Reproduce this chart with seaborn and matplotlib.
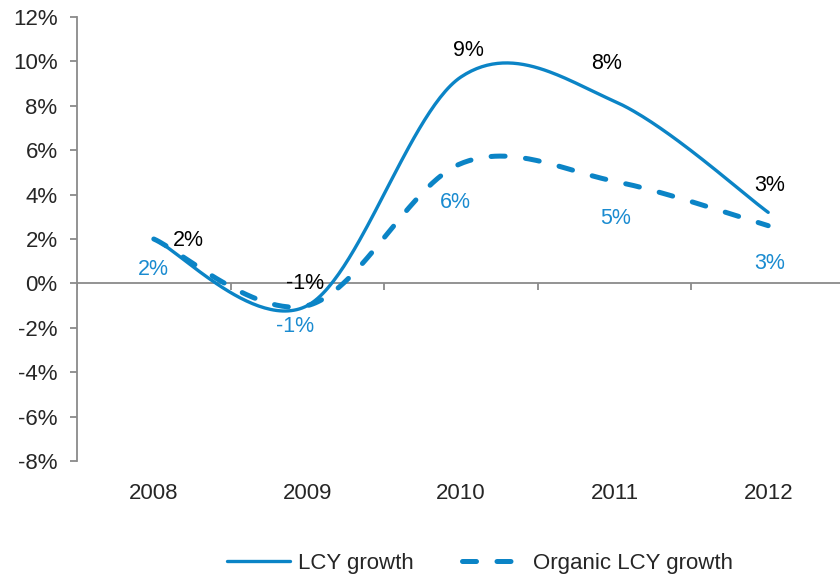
import numpy as np
import pandas as pd
import matplotlib
matplotlib.use('Agg')
import matplotlib.pyplot as plt
import seaborn as sns

years = ['2008', '2009', '2010', '2011', '2012']
lcy_growth = [2.0, -1.0, 9.3, 8.2, 3.2]
organic_growth = [2.0, -1.0, 5.4, 4.6, 2.6]
lcy_labels = ['2%', '-1%', '9%', '8%', '3%']
organic_labels = ['2%', '-1%', '6%', '5%', '3%']

# label offsets in points (dx, dy) from each point
lcy_offsets = [(25, -1), (-2, 16), (5, 19), (-6, 27), (1, 19)]
organic_offsets = [(0, -22), (-9, -15), (-4, -28), (1, -27), (1, -27)]

blue = '#0B84C6'
label_blue = '#1A8BD0'
grey = '#8A8A8A'


def smooth(y, n=60):
    # Excel-style smoothed line: cubic bezier through the points
    x = np.arange(len(y), dtype=float)
    p = np.column_stack([x, np.asarray(y, dtype=float)])
    xs, ys = [], []
    for i in range(len(p) - 1):
        p0 = p[max(i - 1, 0)]
        p1 = p[i]
        p2 = p[i + 1]
        p3 = p[min(i + 2, len(p) - 1)]
        c1 = p1 + (p2 - p0) / 6
        c2 = p2 - (p3 - p1) / 6
        t = np.linspace(0, 1, n)[:, None]
        b = ((1 - t) ** 3) * p1 + 3 * ((1 - t) ** 2) * t * c1 + 3 * (1 - t) * t ** 2 * c2 + t ** 3 * p2
        xs.extend(b[:, 0])
        ys.extend(b[:, 1])
    return pd.DataFrame({'x': xs, 'y': ys})


sns.set_style('white')
plt.rcParams['font.family'] = ['Liberation Sans', 'DejaVu Sans']

fig = plt.figure(figsize=(8.4, 5.79), dpi=100)
ax = fig.add_axes([77 / 840, 1 - 461 / 579, 768 / 840, 444 / 579])

lcy_df = smooth(lcy_growth)
org_df = smooth(organic_growth)

sns.lineplot(data=lcy_df, x='x', y='y', sort=False, ax=ax, color=blue,
             linewidth=2.4, label='LCY growth')
sns.lineplot(data=org_df, x='x', y='y', sort=False, ax=ax, color=blue,
             linewidth=3.6, label='Organic LCY growth')
org_line = ax.lines[-1]
org_line.set_dashes((2.8, 4.1))
org_line.set_dash_capstyle('round')

ax.axhline(0, color=grey, linewidth=1.3, zorder=1)
ax.vlines(np.arange(len(years) + 1) - 0.5, -0.3, 0, color=grey, linewidth=1.3, zorder=1)

ax.set_xlim(-0.5, len(years) - 0.5)
ax.set_ylim(-8, 12)
ax.set_yticks(range(-8, 13, 2))
ax.set_yticklabels([f'{v}%' for v in range(-8, 13, 2)])
ax.set_xticks(range(len(years)))
ax.set_xticklabels(years)
ax.tick_params(axis='x', length=0, pad=16, labelsize=16)
ax.tick_params(axis='y', direction='out', length=5, width=1.3, color=grey,
               pad=9, labelsize=16, left=True)
ax.set_xlabel('')
ax.set_ylabel('')

for s in ['top', 'right', 'bottom']:
    ax.spines[s].set_visible(False)
ax.spines['left'].set_color(grey)
ax.spines['left'].set_linewidth(1.3)

for i in range(len(years)):
    ax.annotate(lcy_labels[i], (i, lcy_growth[i]), xytext=lcy_offsets[i],
                textcoords='offset points', ha='center', va='center',
                fontsize=15.5, color='black')
    ax.annotate(organic_labels[i], (i, organic_growth[i]), xytext=organic_offsets[i],
                textcoords='offset points', ha='center', va='center',
                fontsize=15.5, color=label_blue)

leg = ax.legend(loc='center', bbox_to_anchor=(480 / 840, 1 - 563 / 579),
                bbox_transform=fig.transFigure, ncol=2, frameon=False,
                fontsize=16, handlelength=2.85, handletextpad=0.35,
                columnspacing=2.2)

fig.savefig('out.png', dpi=100)
